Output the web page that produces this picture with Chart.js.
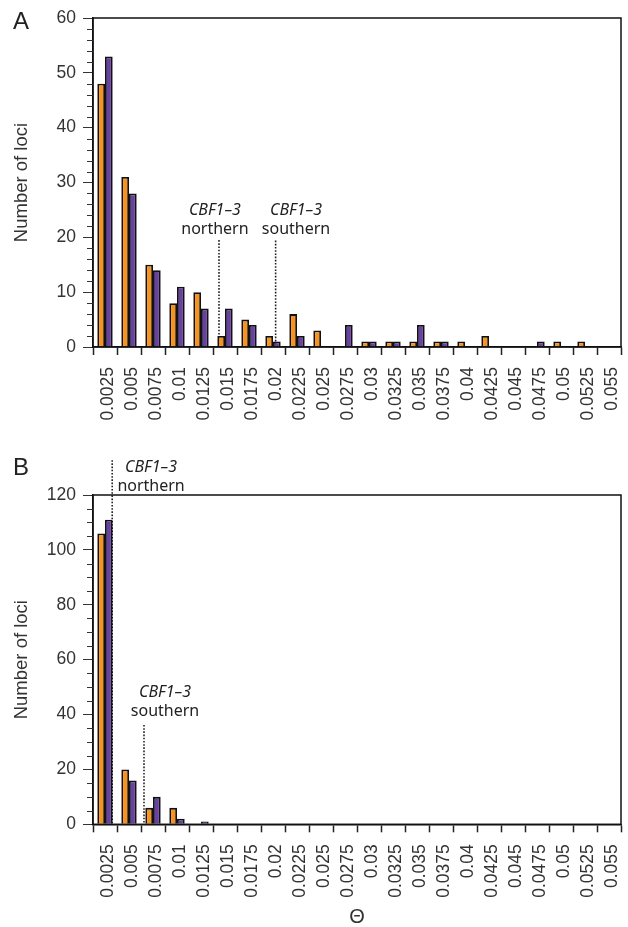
<!DOCTYPE html>
<html>
<head>
<meta charset="utf-8">
<script src="https://cdn.jsdelivr.net/npm/chart.js@4.4.1/dist/chart.umd.min.js"></script>
<style>
  html, body { margin: 0; padding: 0; background: #fff; }
  #page { position: relative; width: 628px; height: 927px; }
  .panel { position: absolute; left: 0; width: 628px; }
  #panelA { top: 0; height: 440px; }
  #panelB { top: 440px; height: 487px; }
</style>
</head>
<body>
<div id="page">
  <div class="panel" id="panelA"><canvas id="chartA" width="628" height="440"></canvas></div>
  <div class="panel" id="panelB"><canvas id="chartB" width="628" height="487"></canvas></div>
</div>
<script>
// Theta bins (upper edge of each bin)
const thetaBins = ['0.0025', '0.005', '0.0075', '0.01', '0.0125', '0.015', '0.0175', '0.02',
  '0.0225', '0.025', '0.0275', '0.03', '0.0325', '0.035', '0.0375', '0.04', '0.0425',
  '0.045', '0.0475', '0.05', '0.0525', '0.055']

// Panel A - number of loci per bin
const orangeA = [48, 31, 15, 8, 10, 2, 5, 2, 6, 3, 0, 1, 1, 1, 1, 1, 2, 0, 0, 1, 1, 0]
const purpleA = [53, 28, 14, 11, 7, 7, 4, 1, 2, 0, 4, 1, 1, 4, 1, 0, 0, 0, 1, 0, 0, 0]

// Panel B
const orangeB = [106, 20, 6, 6, 0, 0, 0, 0, 0, 0, 0, 0, 0, 0, 0, 0, 0, 0, 0, 0, 0, 0]
const purpleB = [111, 16, 10, 2, 1, 0, 0, 0, 0, 0, 0, 0, 0, 0, 0, 0, 0, 0, 0, 0, 0, 0]

// CBF1-3 markers: bin index of the dotted line, its top value, label anchor
const markersA = [
  { at: 4.75, top: 19.5, textAt: 4.58, textY: 24.9, label: 'northern' },
  { at: 7.11, top: 19.4, textAt: 7.96, textY: 24.9, label: 'southern' }
]
const markersB = [
  { at: 0.30, top: 132.7, textAt: 1.92, textY: 130.2, label: 'northern' },
  { at: 1.625, top: 36.2, textAt: 2.5, textY: 47.9, label: 'southern' }
]

const ORANGE = '#F7921E'
const PURPLE = '#6841A0'
const TICK_FONT = { family: '"Liberation Sans", Arial, sans-serif', size: 17.5 }

const framePlugin = {
  id: 'frame',
  beforeDatasetsDraw(chart, args, opts) {
    const { ctx, scales: { x, y } } = chart
    ctx.save()
    ctx.strokeStyle = '#222'
    ctx.lineWidth = 1.6
    ctx.setLineDash([1.6, 1.6])
    opts.markers.forEach(m => {
      const px = x.getPixelForValue(m.at)
      ctx.beginPath()
      ctx.moveTo(px, y.getPixelForValue(m.top))
      ctx.lineTo(px, y.getPixelForValue(0))
      ctx.stroke()
    })
    ctx.restore()
  },
  afterDraw(chart, args, opts) {
    const { ctx, chartArea: a, scales: { x, y } } = chart
    ctx.save()

    // box round the plot
    ctx.strokeStyle = '#111'
    ctx.lineWidth = 1.5
    ctx.strokeRect(a.left, a.top, a.right - a.left, a.bottom - a.top)

    // minor ticks on y
    ctx.strokeStyle = '#333'
    ctx.lineWidth = 1
    for (let v = 0; v <= y.max; v += opts.minorStep) {
      if (v % opts.majorStep === 0) continue
      const py = Math.round(y.getPixelForValue(v)) + 0.5
      ctx.beginPath()
      ctx.moveTo(a.left - 6, py)
      ctx.lineTo(a.left, py)
      ctx.stroke()
    }

    // marker labels
    ctx.fillStyle = '#222'
    ctx.textAlign = 'center'
    ctx.textBaseline = 'middle'
    opts.markers.forEach(m => {
      const tx = x.getPixelForValue(m.textAt)
      const ty = y.getPixelForValue(m.textY)
      ctx.font = 'italic 16px "Noto Sans", sans-serif'
      ctx.fillText('CBF1–3', tx, ty)
      ctx.font = '16px "Noto Sans", sans-serif'
      ctx.fillText(m.label, tx, ty + 19)
    })

    // panel letter
    ctx.font = '24px "Liberation Sans", Arial, sans-serif'
    ctx.textAlign = 'left'
    ctx.fillText(opts.letter, 13, opts.letterY)
    ctx.restore()
  }
}

function makeChart(canvasId, orange, purple, cfg) {
  return new Chart(document.getElementById(canvasId), {
    type: 'bar',
    data: {
      labels: thetaBins,
      datasets: [
        { data: orange, backgroundColor: ORANGE, borderColor: '#111', borderWidth: 1.8 },
        { data: purple, backgroundColor: PURPLE, borderColor: '#111', borderWidth: 1.8 }
      ]
    },
    options: {
      responsive: false,
      animation: false,
      categoryPercentage: 0.64,
      barPercentage: 1.0,
      layout: { padding: { left: 7, right: 7, top: cfg.top, bottom: 0 } },
      plugins: {
        legend: { display: false },
        tooltip: { enabled: false },
        frame: {
          markers: cfg.markers,
          minorStep: cfg.minorStep,
          majorStep: cfg.majorStep,
          letter: cfg.letter,
          letterY: cfg.letterY
        }
      },
      scales: {
        x: {
          afterFit: s => {
            s.height = cfg.xHeight
            s.paddingLeft = 0
            s.paddingRight = 0
          },
          border: { color: '#111', width: 1.5 },
          grid: { drawOnChartArea: false, tickLength: 8, tickColor: '#222', tickWidth: 1.5, offset: true },
          ticks: {
            color: '#333',
            font: TICK_FONT,
            maxRotation: 90,
            minRotation: 90,
            autoSkip: false,
            padding: 12,
            labelOffset: 3
          },
          title: {
            display: cfg.xTitle,
            text: 'Θ',
            color: '#333',
            font: { family: '"Liberation Sans", Arial, sans-serif', size: 20, lineHeight: 1 },
            padding: { top: 0, bottom: 0 }
          }
        },
        y: {
          min: 0,
          max: cfg.max,
          afterFit: s => { s.width = 86 },
          border: { color: '#111', width: 1.5 },
          grid: { drawOnChartArea: false, tickLength: 10, tickColor: '#333' },
          ticks: { stepSize: cfg.majorStep, color: '#333', font: TICK_FONT, padding: 7 },
          title: {
            display: true,
            text: 'Number of loci',
            color: '#333',
            font: { family: '"Liberation Sans", Arial, sans-serif', size: 18.5 },
            padding: { top: 4, bottom: 0 }
          }
        }
      }
    },
    plugins: [framePlugin]
  })
}

makeChart('chartA', orangeA, purpleA, {
  top: 18, max: 60, majorStep: 10, minorStep: 2, markers: markersA,
  letter: 'A', letterY: 22, xHeight: 93, xTitle: false
})

makeChart('chartB', orangeB, purpleB, {
  top: 55, max: 120, majorStep: 20, minorStep: 5, markers: markersB,
  letter: 'B', letterY: 28.5, xHeight: 102.7, xTitle: true
})
</script>
</body>
</html>
